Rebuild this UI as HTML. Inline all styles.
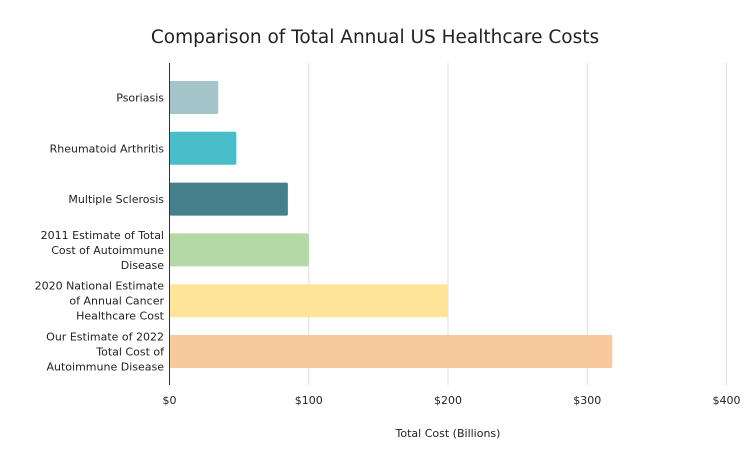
<!DOCTYPE html>
<html><head><meta charset="utf-8"><style>
body{margin:0;background:#fff;font-family:"DejaVu Sans","Liberation Sans",sans-serif;}
svg text{font-family:"DejaVu Sans","Liberation Sans",sans-serif;fill:#222;}
</style></head><body>
<svg id="chart" width="750" height="463">
<text x="375" y="43" text-anchor="middle" font-size="18.5">Comparison of Total Annual US Healthcare Costs</text>
<g id="grid"></g><g id="bars"></g><g id="ylabels"></g><g id="xlabels"></g>
<line x1="169.5" y1="63" x2="169.5" y2="385" stroke="#333" stroke-width="1"/>
<text x="448" y="437" text-anchor="middle" font-size="11">Total Cost (Billions)</text>
</svg>
<script>
const categories=[["Psoriasis"],["Rheumatoid Arthritis"],["Multiple Sclerosis"],["2011 Estimate of Total","Cost of Autoimmune","Disease"],["2020 National Estimate","of Annual Cancer","Healthcare Cost"],["Our Estimate of 2022","Total Cost of","Autoimmune Disease"]];
const values=[35,48,85,100,200,318];
const colors=["#a3c4c9","#47bec9","#45808c","#b5d9a6","#fee499","#f8c99d"];
const ticks=[0,100,200,300,400];
const tickLabels=["$0","$100","$200","$300","$400"];
const NS="http://www.w3.org/2000/svg";
const x=v=>169.5+v*1.3925;
const band=50.8;
const y=i=>81+i*band;
function mk(t,a,p){const e=document.createElementNS(NS,t);for(const k in a)e.setAttribute(k,a[k]);document.getElementById(p).appendChild(e);return e;}
ticks.forEach((t,i)=>{
 if(i>0){const l=mk("line",{x1:x(t),x2:x(t),y1:63,y2:385,stroke:"#ddd"},"grid");
 
 }
 const tx=mk("text",{x:x(t),y:404,"text-anchor":"middle","font-size":11},"xlabels");
 tx.textContent=tickLabels[i];
 
 
});
values.forEach((v,i)=>{
 const r=mk("rect",{x:169.5,y:y(i),width:x(v)-169.5,height:33,fill:colors[i],rx:1.5},"bars");
 
 
 const lines=categories[i];const cy=y(i)+16.5;
 lines.forEach((s,j)=>{
  const t=mk("text",{x:164,y:cy+4+(j-(lines.length-1)/2)*15,"text-anchor":"end","font-size":11},"ylabels");
  t.textContent=s;
  
  
 });
});
</script>
</body></html>
